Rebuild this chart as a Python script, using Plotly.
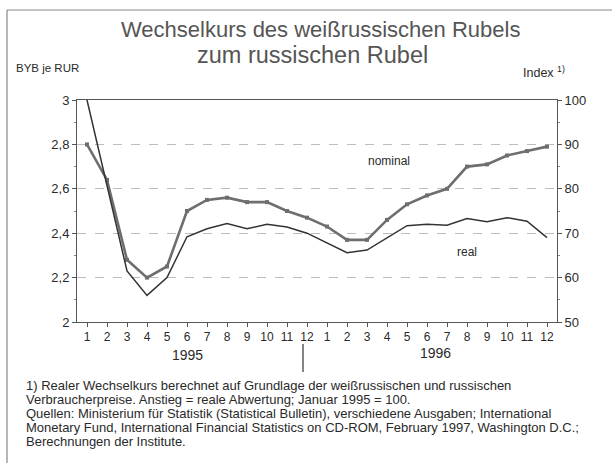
import plotly.graph_objects as go

# ---- data ----
months = list(range(1, 25))
month_labels = [str(m) for m in range(1, 13)] * 2
nominal = [2.80, 2.64, 2.28, 2.20, 2.25, 2.50, 2.55, 2.56, 2.54, 2.54, 2.50, 2.47,
           2.43, 2.37, 2.37, 2.46, 2.53, 2.57, 2.60, 2.70, 2.71, 2.75, 2.77, 2.79]
real_index = [100, 80.5, 61.5, 56, 60, 69.2, 71, 72.2, 71, 72, 71.4, 70,
              67.8, 65.6, 66.2, 69, 71.7, 72, 71.8, 73.3, 72.6, 73.5, 72.7, 69]
left_ticks = [2, 2.2, 2.4, 2.6, 2.8, 3]
left_ticktext = ["2", "2,2", "2,4", "2,6", "2,8", "3"]
right_ticks = [50, 60, 70, 80, 90, 100]
years = ["1995", "1996"]

W, H = 612, 463
L, R, T, B = 77, 557, 100, 322


def px(x):
    return (x - L) / (R - L)


def py(y):
    return (B - y) / (B - T)


FONT = "Liberation Sans, Arial, sans-serif"
TXT = "#2a2a2a"

fig = go.Figure()
fig.add_trace(go.Scatter(
    x=months, y=nominal, mode="lines+markers", name="nominal",
    line=dict(color="#6e6e6e", width=2.6),
    marker=dict(symbol="square", size=4, color="#6e6e6e"),
))
fig.add_trace(go.Scatter(
    x=months, y=real_index, mode="lines", name="real", yaxis="y2",
    line=dict(color="#333333", width=1.5),
))

fig.update_layout(
    width=W, height=H,
    margin=dict(l=L, r=W - R, t=T, b=H - B),
    paper_bgcolor="white", plot_bgcolor="white",
    showlegend=False,
    font=dict(family=FONT, color=TXT),
    xaxis=dict(
        range=[0.5, 24.5], tickmode="array", tickvals=months, ticktext=month_labels,
        ticks="outside", ticklen=4, tickcolor="#555", showline=True, linecolor="#555",
        mirror=True, showgrid=False, zeroline=False, tickfont=dict(size=12, color=TXT),
    ),
    yaxis=dict(
        range=[2, 3], tickmode="array", tickvals=left_ticks, ticktext=left_ticktext,
        ticks="outside", ticklen=4, tickcolor="#555", showline=True, linecolor="#555",
        showgrid=True, gridcolor="#bdbdbd", griddash="dash", gridwidth=1,
        zeroline=False, tickfont=dict(size=13, color=TXT),
        minor=dict(dtick=0.1, ticks="outside", ticklen=2, tickcolor="#888", showgrid=False),
    ),
    yaxis2=dict(
        range=[50, 100], overlaying="y", side="right", tickmode="array",
        tickvals=right_ticks, ticks="outside", ticklen=4, tickcolor="#555",
        showline=True, linecolor="#555", showgrid=False, zeroline=False,
        tickfont=dict(size=13, color=TXT),
        minor=dict(dtick=5, ticks="outside", ticklen=2, tickcolor="#888", showgrid=False),
    ),
)

ann = []
ann.append(dict(text="Wechselkurs des weißrussischen Rubels", x=px(320), y=py(30),
                font=dict(size=22, color="#555555")))
ann.append(dict(text="zum russischen Rubel", x=px(312), y=py(55),
                font=dict(size=23.5, color="#555555")))
ann.append(dict(text="BYB je RUR", x=px(14), y=py(68), xanchor="left",
                font=dict(size=11.5, color=TXT)))
ann.append(dict(text="Index <sup>1)</sup>", x=px(521), y=py(72), xanchor="left",
                font=dict(size=12.5, color=TXT)))
ann.append(dict(text="nominal", x=16.1, y=2.725, xref="x", yref="y",
                font=dict(size=12, color=TXT)))
ann.append(dict(text="real", x=20, y=2.314, xref="x", yref="y",
                font=dict(size=12, color=TXT)))
ann.append(dict(text=years[0], x=px(187), y=py(355), font=dict(size=14, color=TXT)))
ann.append(dict(text=years[1], x=px(435), y=py(353), font=dict(size=14, color=TXT)))

foot = [
    "1) Realer Wechselkurs berechnet auf Grundlage der weißrussischen und russischen",
    "Verbraucherpreise. Anstieg = reale Abwertung; Januar 1995 = 100.",
    "Quellen: Ministerium für Statistik (Statistical Bulletin), verschiedene Ausgaben; International",
    "Monetary Fund, International Financial Statistics on CD-ROM, February 1997, Washington D.C.;",
    "Berechnungen der Institute.",
]
for i, line in enumerate(foot):
    ann.append(dict(text=line, x=px(24), y=py(385 + i * 14), xanchor="left",
                    font=dict(size=13, color=TXT)))

for a in ann:
    a.setdefault("xref", "paper")
    a.setdefault("yref", "paper")
    a.setdefault("xanchor", "center")
    a.setdefault("yanchor", "middle")
    a["showarrow"] = False
fig.update_layout(annotations=ann)

shapes = [
    dict(type="line", xref="paper", yref="paper", x0=px(303), x1=px(303),
         y0=py(344), y1=py(372), line=dict(color="#333", width=1.2)),
    dict(type="line", xref="paper", yref="paper", x0=px(7), x1=px(612),
         y0=py(10), y1=py(10), line=dict(color="#888", width=1.2)),
    dict(type="line", xref="paper", yref="paper", x0=px(7), x1=px(7),
         y0=py(10), y1=py(463), line=dict(color="#888", width=1.2)),
]
fig.update_layout(shapes=shapes)

fig.write_html("out.html", config={"displayModeBar": False},
               post_script="document.body.style.margin='0';")
